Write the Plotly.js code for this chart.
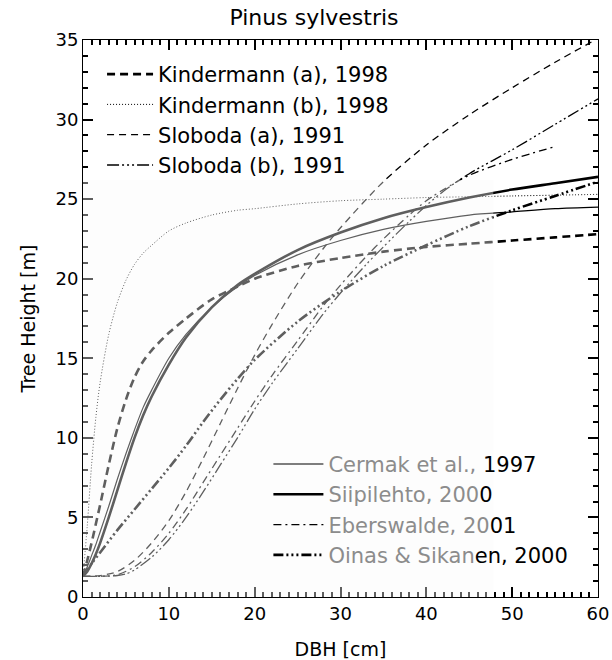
<!DOCTYPE html>
<html>
<head>
<meta charset="utf-8">
<script src="https://cdn.plot.ly/plotly-3.0.1.min.js"></script>
<style>html,body{margin:0;padding:0;background:#fff;}#chart{width:612px;height:660px;}</style>
</head>
<body>
<div id="chart"></div>
<script>
// ---- data ----
var chartTitle = 'Pinus sylvestris';
var xTitle = 'DBH [cm]';
var yTitle = 'Tree Height [m]';
var xTicks = [0, 10, 20, 30, 40, 50, 60];
var yTicks = [0, 5, 10, 15, 20, 25, 30, 35];

var dbhA = [0, 0.5, 1, 1.5, 2, 3, 4, 5, 6, 7, 8, 10, 12, 15, 18, 20, 25, 30, 35, 40, 45, 50, 55, 60];
var kindermannA = [1.3, 2.3, 3.4, 4.6, 5.8, 8.3, 10.6, 12.4, 13.8, 14.8, 15.5, 16.6, 17.5, 18.7, 19.5, 20.0, 20.8, 21.3, 21.7, 22.0, 22.2, 22.4, 22.6, 22.8];
var kindermannB = [1.3, 4.5, 8.3, 11.3, 13.5, 16.5, 18.5, 19.9, 20.9, 21.6, 22.1, 23.0, 23.5, 24.0, 24.3, 24.4, 24.7, 24.9, 25.0, 25.1, 25.15, 25.2, 25.25, 25.3];
var cermak = [1.3, 1.9, 2.6, 3.3, 4.1, 5.7, 7.4, 9.0, 10.5, 11.9, 13.0, 15.0, 16.5, 18.2, 19.5, 20.2, 21.5, 22.4, 23.1, 23.6, 24.0, 24.2, 24.4, 24.5];
var siipilehto = [1.3, 1.6, 2.1, 2.7, 3.4, 5.0, 6.7, 8.4, 10.0, 11.4, 12.6, 14.6, 16.3, 18.2, 19.6, 20.3, 21.8, 22.9, 23.8, 24.5, 25.1, 25.6, 26.0, 26.4];

var dbhS = [0, 2, 4, 6, 8, 10, 12, 14, 16, 18, 20, 22, 25, 28, 30, 35, 40, 45, 50, 55, 60];
var slobodaA = [1.3, 1.35, 1.6, 2.3, 3.4, 4.8, 6.6, 8.7, 10.9, 13.1, 15.2, 17.1, 19.7, 21.9, 23.2, 26.1, 28.4, 30.3, 32.0, 33.6, 35.1];

var dbhSB = [0, 2, 4, 5, 6, 8, 10, 12, 14, 16, 18, 20, 22, 25, 28, 30, 33, 35, 38, 40, 42, 45, 50, 55, 60];
var slobodaB = [1.3, 1.3, 1.35, 1.45, 1.7, 2.5, 3.6, 5.0, 6.6, 8.3, 10.0, 11.8, 13.4, 15.6, 17.8, 19.1, 20.9, 22.0, 23.6, 24.6, 25.5, 26.6, 28.1, 29.7, 31.3];

var dbhE = [0, 2, 4, 6, 8, 10, 12, 14, 16, 18, 20, 22, 25, 28, 30, 33, 35, 38, 40, 42, 45, 50, 55];
var eberswalde = [1.3, 1.3, 1.4, 1.9, 2.8, 4.0, 5.5, 7.2, 8.9, 10.6, 12.3, 13.9, 16.1, 18.3, 19.6, 21.4, 22.5, 24.0, 24.9, 25.6, 26.5, 27.5, 28.3];

var dbhO = [0, 1, 2, 4, 6, 8, 10, 12, 14, 16, 18, 20, 25, 30, 35, 40, 45, 50, 55, 60];
var oinas = [1.3, 2.1, 2.8, 4.2, 5.5, 6.8, 8.1, 9.5, 11.0, 12.4, 13.7, 14.9, 17.3, 19.2, 20.8, 22.1, 23.3, 24.3, 25.2, 26.1];

var gry = '#8c8c8c';
var names = {
  ka: 'Kindermann (a), 1998',
  kb: 'Kindermann (b), 1998',
  sa: 'Sloboda (a), 1991',
  sb: 'Sloboda (b), 1991',
  ce: '<span style="color:' + gry + '">Cermak et al., </span>1997',
  si: '<span style="color:' + gry + '">Siipilehto, 200</span>0',
  eb: '<span style="color:' + gry + '">Eberswalde, 20</span>01',
  oi: '<span style="color:' + gry + '">Oinas &amp; Sikan</span>en, 2000'
};

function tr(x, y, name, width, dash, legend) {
  return {
    x: x, y: y, name: name, type: 'scatter', mode: 'lines',
    line: {color: '#000', width: width, dash: dash, shape: 'spline', smoothing: 0.8},
    legend: legend, hoverinfo: 'skip'
  };
}

var traces = [
  tr(dbhA, kindermannA, names.ka, 2.6, '8px,5px', 'legend'),
  tr(dbhA, kindermannB, names.kb, 1, '1px,2px', 'legend'),
  tr(dbhS, slobodaA, names.sa, 1.3, '7px,5px', 'legend'),
  tr(dbhSB, slobodaB, names.sb, 1.3, '12px,3px,2px,3px,2px,3px,2px,3px', 'legend'),
  tr(dbhA, cermak, names.ce, 1.2, 'solid', 'legend2'),
  tr(dbhA, siipilehto, names.si, 2.6, 'solid', 'legend2'),
  tr(dbhE, eberswalde, names.eb, 1.3, '8px,4px,2px,4px', 'legend2'),
  tr(dbhO, oinas, names.oi, 2.6, '10px,3px,2px,3px,2px,3px,2px,3px', 'legend2')
];

var fontFam = '"DejaVu Sans", Arial, sans-serif';

var layout = {
  width: 612, height: 660,
  margin: {l: 83, r: 14, t: 40, b: 63},
  title: {text: chartTitle, font: {family: fontFam, size: 22, color: '#000'},
          xref: 'container', yref: 'container', x: 314 / 612, xanchor: 'center', y: 1 - 17 / 660, yanchor: 'middle'},
  xaxis: {
    range: [0, 60], tickvals: xTicks,
    showline: true, linecolor: '#000',
    mirror: 'ticks', ticks: 'inside', ticklen: 10, tickwidth: 1.5, tickcolor: '#000',
    minor: {ticks: 'inside', ticklen: 5, dtick: 1},
    gridcolor: 'rgba(0,0,0,0)', zerolinecolor: '#000',
    tickfont: {family: fontFam, size: 18, color: '#000'},
    title: {text: xTitle, font: {family: fontFam, size: 19, color: '#000'}}
  },
  yaxis: {
    range: [0, 35], tickvals: yTicks,
    showline: true, linecolor: '#000',
    mirror: 'ticks', ticks: 'inside', ticklen: 10, tickwidth: 1.5, tickcolor: '#000',
    minor: {ticks: 'inside', ticklen: 5, dtick: 1},
    gridcolor: 'rgba(0,0,0,0)', zerolinecolor: '#000',
    tickfont: {family: fontFam, size: 18, color: '#000'},
    title: {text: yTitle, font: {family: fontFam, size: 19, color: '#000'}}
  },
  legend: {
    x: 0.037, y: 0.975, xanchor: 'left', yanchor: 'top',
    bgcolor: 'rgba(0,0,0,0)', borderwidth: 0, itemwidth: 46,
    font: {family: fontFam, size: 21, color: '#000'}, tracegroupgap: 0
  },
  legend2: {
    x: 0.36, y: 0.275, xanchor: 'left', yanchor: 'top',
    bgcolor: 'rgba(0,0,0,0)', borderwidth: 0, itemwidth: 50,
    font: {family: fontFam, size: 21, color: '#000'}, tracegroupgap: 0
  },
  shapes: [{
    type: 'rect', xref: 'x', yref: 'y', x0: -1, x1: 47.8, y0: -1, y1: 26.2,
    fillcolor: 'rgba(250,250,250,0.38)', line: {width: 0}, layer: 'above'
  }],
  showlegend: true
};

Plotly.newPlot('chart', traces, layout, {displayModeBar: false});
</script>
</body>
</html>
